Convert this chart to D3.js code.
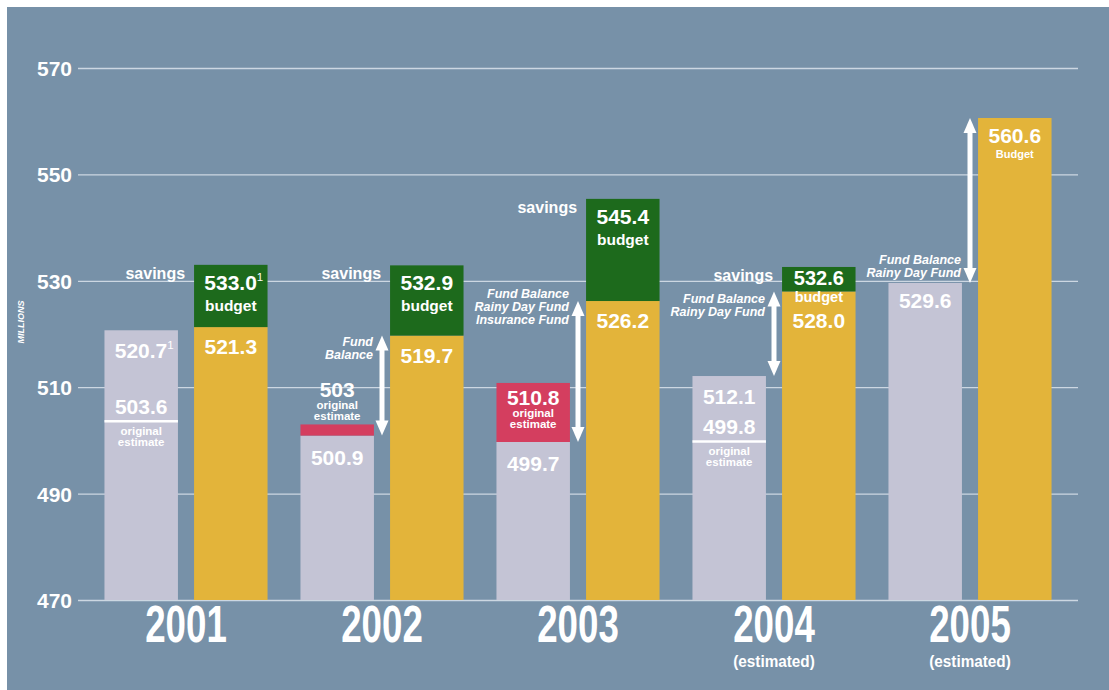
<!DOCTYPE html>
<html><head><meta charset="utf-8">
<script src="https://cdn.jsdelivr.net/npm/d3@7"></script>
<style>
body{margin:0;background:#fff;}
svg text{font-family:"Liberation Sans",Arimo,Arial,sans-serif;font-weight:bold;fill:#fff;}
</style></head><body><svg id="chart" width="1109" height="690"></svg>
<script>
// General fund spending vs. budget, in millions
const years = ["2001", "2002", "2003", "2004", "2005"];
const yearNotes = ["", "", "", "(estimated)", "(estimated)"];
const actual = [520.7, 500.9, 499.7, 512.1, 529.6];
const originalEstimate = [503.6, 503, 510.8, 499.8, null];
const budgetBase = [521.3, 519.7, 526.2, 528.0, 560.6];
const budgetWithSavings = [533.0, 532.9, 545.4, 532.6, null];
const actualFootnotes = ["1", "", "", "", ""];
const budgetFootnotes = ["1", "", "", "", ""];
const fundLabels = [
  [],
  ["Fund", "Balance"],
  ["Fund Balance", "Rainy Day Fund", "Insurance Fund"],
  ["Fund Balance", "Rainy Day Fund"],
  ["Fund Balance", "Rainy Day Fund"]
];
const yTicks = [470, 490, 510, 530, 550, 570];

const C = {
  bg: "#7791a8", grid: "#ccd7e2", actual: "#c4c4d5", budget: "#e3b43a",
  savings: "#1d6a1c", over: "#d43e5f", white: "#ffffff"
};

const svg = d3.select("#chart");
svg.append("rect").attr("x", 7).attr("y", 7).attr("width", 1102).attr("height", 683).attr("fill", C.bg);

const y = d3.scaleLinear().domain([470, 570]).range([600, 68]);
const x0 = d3.scaleBand().domain(years).range([88, 1068]).paddingInner(0.168).paddingOuter(0.084);
const x1 = d3.scaleBand().domain(["actual", "budget"]).range([0, x0.bandwidth()]).paddingInner(0.18);

// Gridlines and tick labels
const axis = svg.append("g").attr("transform", "translate(78,0)")
  .call(d3.axisLeft(y).tickValues(yTicks).tickSize(-1000).tickPadding(6).tickFormat(d3.format("d")));
axis.select(".domain").remove();
axis.selectAll("line").attr("stroke", C.grid).attr("stroke-width", 1.3);
axis.selectAll("text").attr("font-size", 21).attr("fill", C.white).attr("dy", "0.36em")
  .style("font-family", '"Liberation Sans",Arial,sans-serif');

svg.append("text").attr("transform", "translate(24,322) rotate(-90)")
  .attr("text-anchor", "middle").attr("font-size", 9).attr("font-style", "italic")
  .text("MILLIONS");

const rows = years.map((yr, i) => ({
  i, yr, note: yearNotes[i], actual: actual[i], est: originalEstimate[i],
  base: budgetBase[i], total: budgetWithSavings[i],
  aNote: actualFootnotes[i], bNote: budgetFootnotes[i], fund: fundLabels[i]
}));

const g = svg.selectAll("g.year").data(rows).join("g")
  .attr("class", "year").attr("transform", d => `translate(${x0(d.yr)},0)`);

const ax = x1("actual"), bx = x1("budget"), bw = x1.bandwidth();
const aMid = ax + bw / 2, bMid = bx + bw / 2, gMid = x0.bandwidth() / 2;

// Actual spending bars
g.append("rect").attr("x", ax).attr("width", bw)
  .attr("y", d => y(d.actual)).attr("height", d => y(470) - y(d.actual)).attr("fill", C.actual);

// Original estimate above actual: red block
g.filter(d => d.est != null && d.est > d.actual).append("rect")
  .attr("x", ax).attr("width", bw)
  .attr("y", d => y(d.est)).attr("height", d => y(d.actual) - y(d.est)).attr("fill", C.over);

// Original estimate below actual: white marker line
g.filter(d => d.est != null && d.est < d.actual).append("line")
  .attr("x1", ax).attr("x2", ax + bw)
  .attr("y1", d => y(d.est)).attr("y2", d => y(d.est))
  .attr("stroke", C.white).attr("stroke-width", 2.5);

// Budget bars
g.append("rect").attr("x", bx).attr("width", bw)
  .attr("y", d => y(d.base)).attr("height", d => y(470) - y(d.base)).attr("fill", C.budget);
g.filter(d => d.total != null).append("rect").attr("x", bx).attr("width", bw)
  .attr("y", d => y(d.total)).attr("height", d => y(d.base) - y(d.total)).attr("fill", C.savings);

const fmt = v => v.toFixed(1);
const fmtEst = v => d3.format(v % 1 ? ".1f" : "d")(v);

function valueText(sel, x, yy, txt, size, sup) {
  const t = sel.append("text").attr("x", x).attr("y", yy).attr("text-anchor", "middle")
    .attr("font-size", size).text(txt);
  if (sup) {
    t.append("tspan").attr("font-size", size * 0.55).attr("font-weight", "normal")
      .attr("dy", -size * 0.42).text(sup);
  }
  return t;
}

// Labels on actual bars
g.each(function (d) {
  const s = d3.select(this);
  const top = y(d.actual);
  if (d.est != null && d.est < d.actual) {
    valueText(s, aMid + (d.aNote ? 3 : 0), top + 28, fmt(d.actual), 21, d.aNote);
    const ly = y(d.est);
    valueText(s, aMid, ly - 7, fmtEst(d.est), 21);
    valueText(s, aMid, ly + 14, "original", 11.5);
    valueText(s, aMid, ly + 25, "estimate", 11.5);
  } else if (d.est != null && d.est > d.actual) {
    const et = y(d.est);
    if (top - et > 40) {
      valueText(s, aMid, et + 22, fmtEst(d.est), 21);
      valueText(s, aMid, et + 34, "original", 11.5);
      valueText(s, aMid, et + 45, "estimate", 11.5);
    } else {
      valueText(s, aMid, et - 27, fmtEst(d.est), 21);
      valueText(s, aMid, et - 15, "original", 11.5);
      valueText(s, aMid, et - 4, "estimate", 11.5);
    }
    valueText(s, aMid, top + 29, fmt(d.actual), 21);
  } else {
    valueText(s, aMid, top + 25, fmt(d.actual), 21);
  }
});

// Labels on budget bars
g.each(function (d) {
  const s = d3.select(this);
  if (d.total != null) {
    const t = y(d.total), b = y(d.base);
    const tall = b - t > 40;
    valueText(s, bMid + (d.bNote ? 3 : 0), t + (tall ? 25 : 18), fmt(d.total), tall ? 21 : 20, d.bNote);
    valueText(s, bMid, t + (tall ? 46 : 35), "budget", tall ? 15.5 : 14.5);
    s.append("text").attr("x", bx - 9).attr("y", t + 14).attr("text-anchor", "end")
      .attr("font-size", 16).text("savings");
    valueText(s, bMid, tall ? b + 27 : t + 61, fmt(d.base), 21);
  } else {
    const b = y(d.base);
    valueText(s, bMid, b + 25, fmt(d.base), 21);
    valueText(s, bMid, b + 40, "Budget", 11);
  }
});

// Double-headed arrows between actual spending and the budget
const fundOffsets = { "2002": 10, "2003": -3, "2004": 12 };
g.filter(d => d.fund.length > 0).each(function (d) {
  const s = d3.select(this);
  const y1 = y(d.base), y2 = y(d.actual);
  const x = gMid, hw = 6.5, hh = 15;
  s.append("line").attr("x1", x).attr("x2", x).attr("y1", y1 + hh - 2).attr("y2", y2 - hh + 2)
    .attr("stroke", C.white).attr("stroke-width", 5);
  s.append("path").attr("fill", C.white)
    .attr("d", `M${x},${y1}L${x + hw},${y1 + hh}L${x - hw},${y1 + hh}Z`);
  s.append("path").attr("fill", C.white)
    .attr("d", `M${x},${y2}L${x + hw},${y2 - hh}L${x - hw},${y2 - hh}Z`);
  const lh = 13;
  const first = d.yr in fundOffsets ? y1 + fundOffsets[d.yr] : y2 - 6 - lh * (d.fund.length - 1);
  s.append("text").attr("text-anchor", "end").attr("font-size", 12.5).attr("font-style", "italic")
    .selectAll("tspan").data(d.fund).join("tspan")
    .attr("x", x - 9).attr("y", (t, k) => first + k * lh).text(t => t);
});

// Year labels (condensed)
g.append("text").attr("transform", `translate(${gMid},642) scale(0.72,1)`)
  .attr("text-anchor", "middle").attr("font-size", 51).text(d => d.yr);
g.filter(d => d.note).append("text").attr("transform", `translate(${gMid},667) scale(0.9,1)`)
  .attr("text-anchor", "middle").attr("font-size", 17).text(d => d.note);
</script></body></html>
